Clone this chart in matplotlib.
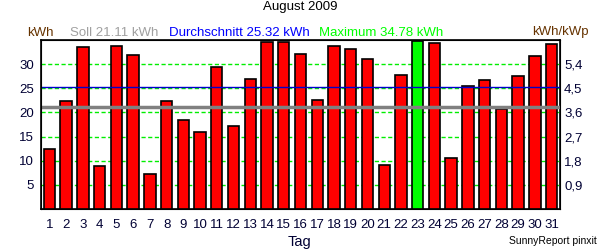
import matplotlib
matplotlib.use("Agg")
import matplotlib.pyplot as plt

plt.rcParams['font.family'] = ['Liberation Sans', 'DejaVu Sans']

# daily yield August 2009 (kWh)
days = list(range(1, 32))
kwh = [12.5, 22.4, 33.5, 9.0, 33.7, 31.8, 7.2, 22.4, 18.5, 16.0,
       29.4, 17.2, 26.9, 34.5, 34.5, 32.2, 22.6, 33.7, 33.1, 31.0,
       9.2, 27.7, 34.78, 34.3, 10.5, 25.5, 26.7, 20.7, 27.5, 31.6, 34.1]
soll = 21.11
avg = 25.32
maximum = 34.78
left_ticks = [5, 10, 15, 20, 25, 30]
right_labels = ["0,9", "1,8", "2,7", "3,6", "4,5", "5,4"]

fig = plt.figure(figsize=(6, 2.5), dpi=100)
ax = fig.add_axes([41/600, 1-209/250, 519/600, 169/250])

colors = ['#00ff00' if v == maximum else '#ff0000' for v in kwh]
ax.bar(days, kwh, width=0.68, color=colors, edgecolor='black', linewidth=1.2, zorder=3)

for t in left_ticks:
    ax.axhline(t, color='#00ee00', linestyle=(0, (3, 1.8)), linewidth=1, zorder=2)
ax.axhline(soll, color='#808080', linewidth=2.5, zorder=4)
ax.axhline(avg, color='#0000cc', linewidth=1, zorder=4)

ax.set_xlim(0.5, 31.5)
ax.set_ylim(0, 35)
ax.set_xticks(days)
ax.set_xticklabels([str(d) for d in days], fontsize=9.5, color='#000033')
ax.set_yticks(left_ticks)
ax.set_yticklabels([str(t) for t in left_ticks], fontsize=9.5, color='#000033')
ax.tick_params(axis='x', length=0, pad=7)
ax.tick_params(axis='y', length=0, pad=5)
for s in ax.spines.values():
    s.set_linewidth(1.2)

ax2 = ax.twinx()
ax2.set_ylim(0, 35)
ax2.set_yticks(left_ticks)
ax2.set_yticklabels(right_labels, fontsize=9.5, color='#000033')
ax2.tick_params(length=0, pad=3)

fig.text(0.5, 1-242/250, "Tag", ha='center', va='center', fontsize=10.5, color='#000033')

fig.text(0.5, 0.972, "August 2009", ha='center', va='center', fontsize=9.5)
hy = 0.87
fig.text(27/600, hy, "kWh", ha='left', va='center', fontsize=9.5, color='#663300')
fig.text(70/600, hy, "Soll %.2f kWh" % soll, ha='left', va='center', fontsize=9.5, color='#a0a0a0')
fig.text(169/600, hy, "Durchschnitt %.2f kWh" % avg, ha='left', va='center', fontsize=9.5, color='#0000ff')
fig.text(319/600, hy, "Maximum %.2f kWh" % maximum, ha='left', va='center', fontsize=9.5, color='#00ff00')
fig.text(589/600, hy, "kWh/kWp", ha='right', va='center', fontsize=9.5, color='#663300')
fig.text(597/600, 0.035, "SunnyReport pinxit", ha='right', va='center', fontsize=7.5)

fig.savefig("out.png", dpi=100)
